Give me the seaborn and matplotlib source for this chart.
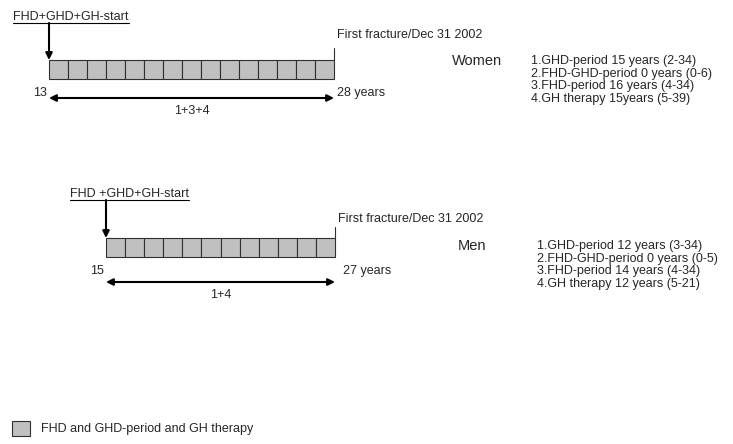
import matplotlib.pyplot as plt
import seaborn as sns

# data
groups = ["Women", "Men"]
start_age = [13, 15]
end_age = [28, 27]
start_labels = ["FHD+GHD+GH-start", "FHD +GHD+GH-start"]
span_labels = ["1+3+4", "1+4"]
end_label = "First fracture/Dec 31 2002"
period_text = [
    ["1.GHD-period 15 years (2-34)",
     "2.FHD-GHD-period 0 years (0-6)",
     "3.FHD-period 16 years (4-34)",
     "4.GH therapy 15years (5-39)"],
    ["1.GHD-period 12 years (3-34)",
     "2.FHD-GHD-period 0 years (0-5)",
     "3.FHD-period 14 years (4-34)",
     "4.GH therapy 12 years (5-21)"],
]
legend_text = "FHD and GHD-period and GH therapy"

sns.set_theme(style="white")
plt.rcParams['font.family'] = ['Liberation Sans', 'DejaVu Sans']

fig = plt.figure(figsize=(7.33, 4.44), dpi=100)
ax = fig.add_axes([0, 0, 1, 1])
ax.set_xlim(0, 733)
ax.set_ylim(444, 0)
ax.axis('off')

# layout per panel (pixel coordinates)
box_x0 = [49, 106]
box_x1 = [334, 335]
box_top = [60, 238]
box_h = 19
label_y = [17, 194]
underline_y = [23, 200]
lab_x = [13, 70]
ff_y = [35, 219]
ff_line_top = [48, 227]
arrow_y = [98, 282]
years_y = [93, 271]
span_y = [111, 295]
grp_x = [452, 458]
grp_y = [61, 246]
list_x = [531, 537]
line_gap = 12.5
fs = 9.0
grey = '#c0c0c0'
edge = '#303030'

labels = []
for k in range(2):
    n = end_age[k] - start_age[k]
    w = (box_x1[k] - box_x0[k]) / n
    xs = [box_x0[k] + i * w for i in range(n)]
    ax.bar(xs, [box_h] * n, width=w, bottom=box_top[k], align='edge',
           color=grey, edgecolor=edge, linewidth=0.8)
    x_end = box_x1[k]
    top = box_top[k]

    # start label and arrow down to the bar
    labels.append(ax.text(lab_x[k], label_y[k], start_labels[k], fontsize=fs,
                          va='center', ha='left'))
    ax.annotate('', xy=(box_x0[k], top), xytext=(box_x0[k], underline_y[k]),
                arrowprops=dict(arrowstyle='-|>', color='black', lw=1.5,
                                mutation_scale=10, shrinkA=0, shrinkB=0))

    # end marker
    ax.plot([x_end, x_end], [ff_line_top[k], top], color=edge, lw=0.8)
    ax.text(x_end + 3, ff_y[k], end_label, fontsize=fs, va='center', ha='left')

    # age span
    ax.text(box_x0[k] - 2, years_y[k], str(start_age[k]), fontsize=fs,
            va='center', ha='right')
    ax.text(x_end + 3 + 5 * k, years_y[k], f"{end_age[k]} years", fontsize=fs,
            va='center', ha='left')
    ax.annotate('', xy=(x_end, arrow_y[k]), xytext=(box_x0[k], arrow_y[k]),
                arrowprops=dict(arrowstyle='<|-|>', color='black', lw=1.5,
                                mutation_scale=10, shrinkA=0, shrinkB=0))
    ax.text((box_x0[k] + x_end) / 2, span_y[k], span_labels[k], fontsize=fs,
            va='center', ha='center')

    # group name and period list
    ax.text(grp_x[k], grp_y[k], groups[k], fontsize=10.5, va='center', ha='left')
    for j, line in enumerate(period_text[k]):
        ax.text(list_x[k], grp_y[k] + j * line_gap, line, fontsize=fs,
                va='center', ha='left')

# underline the start labels using their drawn width
fig.canvas.draw()
inv = ax.transData.inverted()
for k, t in enumerate(labels):
    bb = t.get_window_extent()
    (x0, _), (x1, _) = inv.transform([(bb.x0, bb.y0), (bb.x1, bb.y0)])
    ax.plot([x0, x1], [underline_y[k]] * 2, color='black', lw=0.8)

# legend
ax.bar([12], [15], width=18, bottom=421, align='edge', color=grey,
       edgecolor=edge, linewidth=0.8)
ax.text(41, 428.5, legend_text, fontsize=fs, va='center', ha='left')

fig.savefig("out.png", dpi=100)
